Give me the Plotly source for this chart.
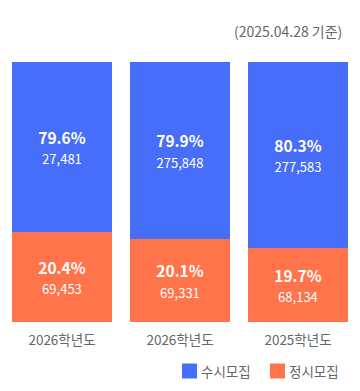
import plotly.graph_objects as go

categories = ["2026학년도", "2026학년도 ", "2025학년도"]
tick_labels = ["2026학년도", "2026학년도", "2025학년도"]
# drawn segment shares (%)
susi_bar = [65.4, 68.1, 71.4]
jeongsi_bar = [34.6, 31.9, 28.6]
# labels shown on the bars
susi_pct = ["79.6%", "79.9%", "80.3%"]
susi_cnt = ["27,481", "275,848", "277,583"]
jeongsi_pct = ["20.4%", "20.1%", "19.7%"]
jeongsi_cnt = ["69,453", "69,331", "68,134"]
series_names = ["수시모집", "정시모집"]

FONT = "Noto Sans CJK KR"
BLUE = "#476EF9"
ORANGE = "#FF744A"
GRAY = "#666666"

# page body has an 8px default margin, so the figure is sized to fit the window
W, H = 352, 383
ML, MR, MT, MB = 0, 0, 54, 69
PW, PH = W - ML - MR, H - MT - MB


def px_x(x):
    return (x - 8 - ML) / PW


def px_y(y):
    return (H - MB - (y - 8)) / PH


def labels(pcts, cnts):
    return [f"<b>{p}</b><br><span style='font-size:13px'>{c}</span>" for p, c in zip(pcts, cnts)]


fig = go.Figure()
for vals, pcts, cnts, name, col in [
    (jeongsi_bar, jeongsi_pct, jeongsi_cnt, series_names[1], ORANGE),
    (susi_bar, susi_pct, susi_cnt, series_names[0], BLUE),
]:
    fig.add_trace(go.Bar(
        x=categories, y=vals, name=name, marker_color=col,
        marker_line_width=0, text=labels(pcts, cnts),
        textposition="inside", insidetextanchor="middle", textangle=0,
        constraintext="none", textfont=dict(color="white", size=15.5, family=FONT),
        hoverinfo="skip",
    ))

# manual legend (squares + labels)
shapes = []
annotations = []
for name, col, sq_x in [(series_names[0], BLUE, 182), (series_names[1], ORANGE, 270)]:
    shapes.append(dict(type="rect", xref="paper", yref="paper",
                       x0=px_x(sq_x), x1=px_x(sq_x + 15), y0=px_y(378.5), y1=px_y(363.5),
                       fillcolor=col, line_width=0))
    annotations.append(dict(text=name, xref="paper", yref="paper", x=px_x(sq_x + 17),
                            xanchor="left", y=px_y(371), yanchor="middle", showarrow=False,
                            font=dict(size=13.5, color=GRAY, family=FONT)))

annotations.append(dict(text="(2025.04.28 기준)", x=px_x(344), xref="paper", xanchor="right",
                        y=px_y(30.7), yref="paper", yanchor="middle", showarrow=False,
                        font=dict(size=14, color=GRAY, family=FONT)))

step = 118.0
c0 = 62 - 8 - ML  # centre of first bar in plot px
fig.update_layout(
    width=W, height=H,
    margin=dict(l=ML, r=MR, t=MT, b=MB, pad=0),
    barmode="stack", bargap=18 / 118,
    plot_bgcolor="white", paper_bgcolor="white",
    font=dict(family=FONT, color=GRAY, size=13),
    showlegend=False,
    xaxis=dict(showgrid=False, zeroline=False, showline=False, ticks="",
               range=[-c0 / step, (PW - c0) / step],
               tickvals=categories, ticktext=tick_labels, ticklabelstandoff=8,
               tickfont=dict(size=13.5, color=GRAY, family=FONT)),
    yaxis=dict(range=[0, 100], visible=False, showgrid=False, zeroline=False),
    shapes=shapes,
    annotations=annotations,
)

fig.write_html("out.html")
